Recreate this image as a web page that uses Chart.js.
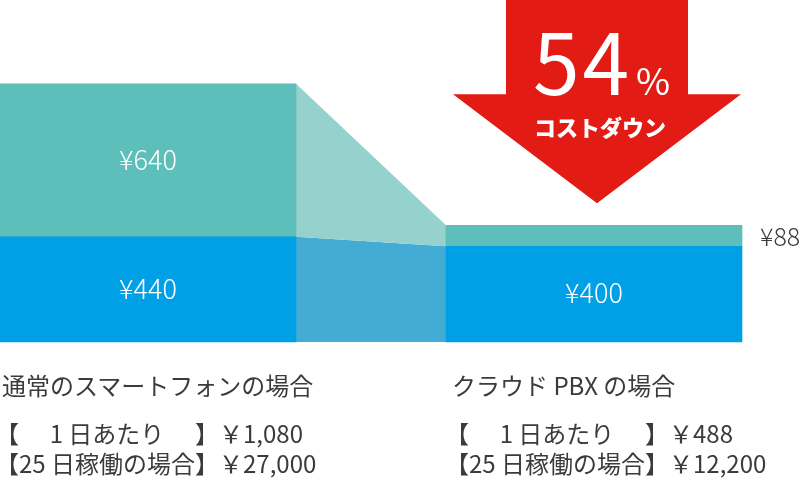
<!DOCTYPE html>
<html lang="ja">
<head>
<meta charset="utf-8">
<script src="https://cdn.jsdelivr.net/npm/chart.js@4.4.0/dist/chart.umd.min.js"></script>
<style>
  html, body { margin: 0; padding: 0; background: #fff; }
  #wrap { position: relative; width: 800px; height: 481px; overflow: hidden;
    font-family: "Noto Sans CJK JP", "Noto Sans", sans-serif; color: #3e3a39; }
  #costChart { position: absolute; left: 0; top: 0; }
  .plan { position: absolute; top: 370px; }
  .plan .title { font-size: 24px; line-height: 30px; white-space: nowrap; }
  .plan .rows { margin-top: 18px; margin-left: -7px; display: grid;
    grid-template-columns: auto auto auto auto;
    font-size: 24px; line-height: 30px; white-space: nowrap; }
  .rows .lbl { text-align: center; }
</style>
</head>
<body>
<div id="wrap">
  <canvas id="costChart" width="800" height="481"></canvas>
</div>
<script>
'use strict';

//Chart data
var planNames = ['通常のスマートフォンの場合', 'クラウド PBX の場合'];
var baseFees = [440, 400];
var callFees = [640, 88];
var rowLabels = ['1 日あたり', '25 日稼働の場合'];
var dailyCosts = ['￥1,080', '￥488'];
var monthlyCosts = ['￥27,000', '￥12,200'];
var costDownRate = '54';
var costDownText = 'コストダウン';

//Colors
var blue = '#00a0e6';
var teal = '#5ebeb9';
var blueLink = '#42acd4';
var tealLink = '#95d1cd';
var arrowRed = '#e31b15';

// shapes joining the two bars, one for each stacked segment
var linkPlugin = {
  id: 'links',
  beforeDatasetsDraw: function (chart) {
    var ctx = chart.ctx;
    var fills = [blueLink, tealLink];
    chart.data.datasets.forEach(function (ds, d) {
      var bars = chart.getDatasetMeta(d).data;
      for (var i = 0; i < bars.length - 1; i++) {
        var a = bars[i].getProps(['x', 'y', 'base', 'width'], true);
        var b = bars[i + 1].getProps(['x', 'y', 'base', 'width'], true);
        ctx.save();
        ctx.fillStyle = fills[d];
        ctx.beginPath();
        ctx.moveTo(a.x + a.width / 2, a.y);
        ctx.lineTo(b.x - b.width / 2, b.y);
        ctx.lineTo(b.x - b.width / 2, b.base);
        ctx.lineTo(a.x + a.width / 2, a.base);
        ctx.closePath();
        ctx.fill();
        ctx.restore();
      }
    });
  }
};

// yen labels inside the segments (or beside them when too thin)
var valuePlugin = {
  id: 'values',
  afterDatasetsDraw: function (chart) {
    var ctx = chart.ctx;
    ctx.save();
    ctx.textBaseline = 'middle';
    chart.data.datasets.forEach(function (ds, d) {
      chart.getDatasetMeta(d).data.forEach(function (bar, i) {
        var p = bar.getProps(['x', 'y', 'base', 'width'], true);
        var text = '¥' + ds.data[i];
        var midY = (p.y + p.base) / 2;
        if (p.base - p.y > 40) {
          ctx.font = '300 27px "Noto Sans CJK JP"';
          ctx.fillStyle = '#fff';
          ctx.textAlign = 'center';
          ctx.fillText(text, p.x, midY - 1);
        } else {
          ctx.font = '300 25px "Noto Sans CJK JP"';
          ctx.fillStyle = '#3e3a39';
          ctx.textAlign = 'left';
          ctx.fillText(text, p.x + p.width / 2 + 18, midY + 1);
        }
      });
    });
    ctx.restore();
  }
};

// big red arrow above the cheaper bar
var arrowPlugin = {
  id: 'arrow',
  afterDraw: function (chart) {
    var ctx = chart.ctx;
    var last = chart.data.labels.length - 1;
    var bar = chart.getDatasetMeta(0).data[last];
    var topBar = chart.getDatasetMeta(chart.data.datasets.length - 1).data[last];
    var cx = bar.x + 3;
    var tip = topBar.y - 22;
    var shaftHalf = 91;
    var headHalf = 144;
    var headTop = tip - 109;

    ctx.save();
    ctx.fillStyle = arrowRed;
    ctx.beginPath();
    ctx.moveTo(cx - shaftHalf, 0);
    ctx.lineTo(cx + shaftHalf, 0);
    ctx.lineTo(cx + shaftHalf, headTop);
    ctx.lineTo(cx + headHalf, headTop);
    ctx.lineTo(cx, tip);
    ctx.lineTo(cx - headHalf, headTop);
    ctx.lineTo(cx - shaftHalf, headTop);
    ctx.closePath();
    ctx.fill();

    ctx.fillStyle = '#fff';
    ctx.textBaseline = 'alphabetic';
    ctx.textAlign = 'left';
    ctx.font = '400 84px "Noto Sans CJK JP"';
    ctx.letterSpacing = '3px';
    ctx.fillText(costDownRate, cx - 64, 95);
    ctx.letterSpacing = '0px';
    ctx.font = '400 37px "Noto Sans CJK JP"';
    ctx.fillText('%', cx + 39, 95);
    ctx.textAlign = 'center';
    ctx.font = '900 22px "Noto Sans CJK JP"';
    ctx.fillText(costDownText, cx + 3, 136);
    ctx.restore();
  }
};

var ctx = document.getElementById('costChart').getContext('2d');

var chart = new Chart(ctx, {
  type: 'bar',
  data: {
    labels: planNames,
    datasets: [{
      label: '基本料',
      data: baseFees,
      backgroundColor: blue,
      barThickness: 296,
      borderWidth: 0,
      clip: false
    },
    {
      label: '通話料',
      data: callFees,
      backgroundColor: teal,
      barThickness: 296,
      borderWidth: 0,
      clip: false
    }]
  },
  options: {
    responsive: false,
    animation: false,
    layout: { padding: { left: 148, right: 206, top: 0, bottom: 139 } },
    plugins: {
      legend: { display: false },
      tooltip: { enabled: false }
    },
    scales: {
      x: { stacked: true, offset: false, display: false },
      y: { stacked: true, min: 0, max: 1430, display: false }
    }
  },
  plugins: [linkPlugin, valuePlugin, arrowPlugin]
});

// captions under each bar
function makeCaptions() {
  var wrap = document.getElementById('wrap');
  var bars = chart.getDatasetMeta(0).data;
  for (var i = 0; i < planNames.length; i++) {
    var p = bars[i].getProps(['x', 'width'], true);
    var box = document.createElement('div');
    box.className = 'plan';
    box.style.left = (p.x - p.width / 2 + (i === 0 ? 2 : 6)) + 'px';

    var title = document.createElement('div');
    title.className = 'title';
    title.textContent = planNames[i];
    box.appendChild(title);

    var rows = document.createElement('div');
    rows.className = 'rows';
    var prices = [dailyCosts[i], monthlyCosts[i]];
    for (var r = 0; r < rowLabels.length; r++) {
      var cells = ['【', rowLabels[r], '】', prices[r]];
      var classes = ['br', 'lbl', 'br', 'price'];
      for (var c = 0; c < cells.length; c++) {
        var span = document.createElement('span');
        span.className = classes[c];
        span.textContent = cells[c];
        rows.appendChild(span);
      }
    }
    box.appendChild(rows);
    wrap.appendChild(box);
  }
}

makeCaptions();
</script>
</body>
</html>
